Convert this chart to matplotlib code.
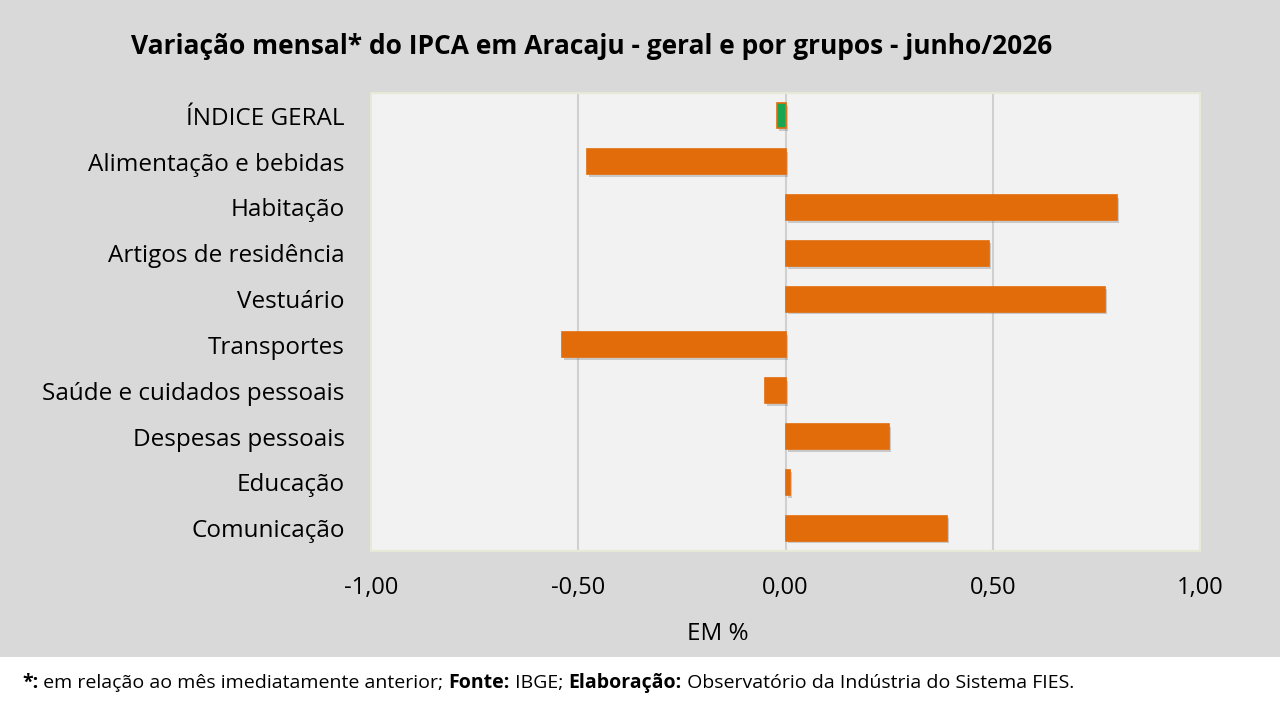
import numpy as np
import matplotlib.pyplot as plt
import matplotlib.patheffects as pe
from matplotlib.patches import Rectangle

# dados
categorias = ['ÍNDICE GERAL', 'Alimentação e bebidas', 'Habitação', 'Artigos de residência',
              'Vestuário', 'Transportes', 'Saúde e cuidados pessoais', 'Despesas pessoais',
              'Educação', 'Comunicação']
variacao = [-0.02, -0.48, 0.80, 0.49, 0.77, -0.54, -0.05, 0.25, 0.01, 0.39]
ticks_x = [-1.0, -0.5, 0.0, 0.5, 1.0]
rotulos_x = ['-1,00', '-0,50', '0,00', '0,50', '1,00']

plt.rcParams['font.family'] = ['Open Sans', 'DejaVu Sans']

LARANJA = '#e36c0a'
VERDE = '#1aa650'

fig = plt.figure(figsize=(12.8, 7.2), dpi=100, facecolor='#d9d9d9')
ax = fig.add_axes([371 / 1280, 1 - 551 / 720, (1200 - 371) / 1280, (551 - 93) / 720])
ax.set_facecolor('#f2f2f2')

y = np.arange(len(categorias))
cores = [VERDE] + [LARANJA] * (len(categorias) - 1)
sombra = [pe.SimplePatchShadow(offset=(1.5, -2), shadow_rgbFace='#7a7a7a', alpha=0.35), pe.Normal()]
barras = ax.barh(y, variacao, height=0.55, color=cores, edgecolor=LARANJA, linewidth=1.2, zorder=3)
for b in barras:
    b.set_path_effects(sombra)

ax.set_xlim(-1, 1)
ax.set_ylim(len(categorias) - 0.5, -0.5)
ax.set_xticks(ticks_x)
ax.set_xticklabels(rotulos_x, fontsize=17)
ax.set_yticks(y)
ax.set_yticklabels(categorias, fontsize=17.5)
ax.tick_params(axis='both', length=0, colors='#000000')
ax.tick_params(axis='x', pad=18)
ax.tick_params(axis='y', pad=19)

for xv in [-0.5, 0.0, 0.5]:
    ax.axvline(xv, color='#d0d0d0', linewidth=1.5, zorder=1)
for s in ax.spines.values():
    s.set_color('#e6e9d6')
    s.set_linewidth(1.5)

fig.text(592 / 1280, 1 - 47 / 720, 'Variação mensal* do IPCA em Aracaju - geral e por grupos - junho/2026',
         ha='center', va='center', fontsize=19, fontweight='bold')
fig.text(718 / 1280, 1 - 634 / 720, 'EM %', ha='center', va='center', fontsize=17.5)

# faixa branca do rodapé
fig.patches.append(Rectangle((0, 0), 1, 1 - 657 / 720, transform=fig.transFigure,
                             facecolor='white', edgecolor='none', zorder=0))

# rodapé com partes em negrito
partes = [('*:', 'bold'), (' em relação ao mês imediatamente anterior; ', 'normal'),
          ('Fonte:', 'bold'), (' IBGE; ', 'normal'), ('Elaboração:', 'bold'),
          (' Observatório da Indústria do Sistema FIES.', 'normal')]
renderer = fig.canvas.get_renderer()
xpos = 22 / 1280
for txt, peso in partes:
    t = fig.text(xpos, 1 - 683 / 720, txt, ha='left', va='center', fontsize=14, fontweight=peso)
    bb = t.get_window_extent(renderer=renderer)
    xpos += bb.width / fig.bbox.width

fig.savefig('out.png', dpi=100, facecolor=fig.get_facecolor())
